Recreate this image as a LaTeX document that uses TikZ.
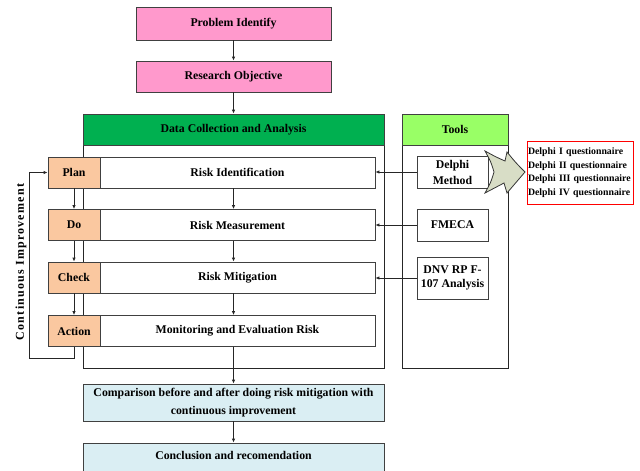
\documentclass[tikz,border=0pt]{standalone}
\usepackage{fontspec}
\setmainfont{Liberation Serif}
\newfontfamily\spacedfont[LetterSpace=10]{Liberation Serif}
\usetikzlibrary{positioning, arrows.meta}

\definecolor{pinkbox}{HTML}{FF99CC}
\definecolor{greenhead}{HTML}{00B050}
\definecolor{toolhead}{HTML}{99FF66}
\definecolor{pdcabox}{HTML}{FAC8A0}
\definecolor{bluebox}{HTML}{DAEEF3}
\definecolor{bigarrow}{HTML}{D8DDC6}

\tikzset{
  box/.style={draw=black!75, line width=0.8pt, font=\bfseries\fontsize{11.8}{14}\selectfont, align=center, inner sep=1pt},
  line/.style={draw=black!85, line width=0.8pt},
}

\begin{document}
\begin{tikzpicture}[x=1pt, y=-1pt, >={Latex[length=4pt, width=3.5pt]}]
  \useasboundingbox (0,0) rectangle (640,471);

  % Top boxes
  \node[box, fill=pinkbox, minimum width=195pt, minimum height=33pt] (prob) at (233.5,23.5) {Problem Identify};
  \node[box, fill=pinkbox, minimum width=195pt, minimum height=31pt] (obj) at (233.5,76.5) {Research Objective};

  % Frames of the two columns
  \draw[line] (83,114) rectangle (384,368);
  \draw[line] (402,114) rectangle (508,368);

  % Headers
  \node[box, fill=greenhead, minimum width=301pt, minimum height=31pt] (dca) at (233.5,129.5) {Data Collection and Analysis};
  \node[box, fill=toolhead, minimum width=106pt, minimum height=31pt] (tools) at (455,129.5) {Tools};

  % Steps
  \node[box, fill=white, minimum width=275pt, minimum height=31pt] (ident) at (237.5,172.5) {Risk Identification};
  \node[box, fill=white, minimum width=275pt, minimum height=31pt] (meas) at (237.5,225) {Risk Measurement};
  \node[box, fill=white, minimum width=275pt, minimum height=31pt] (mitig) at (237.5,277.5) {Risk Mitigation};
  \node[box, fill=white, minimum width=275pt, minimum height=31pt] (monit) at (237.5,331) {Monitoring and Evaluation Risk};

  % PDCA cycle
  \node[box, fill=pdcabox, minimum width=52pt, minimum height=31pt] (plan) at (74,172.5) {Plan};
  \node[box, fill=pdcabox, minimum width=52pt, minimum height=31pt] (do) at (74,225) {Do};
  \node[box, fill=pdcabox, minimum width=52pt, minimum height=31pt] (check) at (74,277.5) {Check};
  \node[box, fill=pdcabox, minimum width=52pt, minimum height=31pt] (action) at (74,331) {Action};

  % Tools
  \node[box, fill=white, minimum width=71pt, minimum height=32pt] (delphi) at (452.5,172) {Delphi\\[2pt]Method};
  \node[box, fill=white, minimum width=71pt, minimum height=32pt] (fmeca) at (452.5,225) {FMECA};
  \node[box, fill=white, minimum width=71pt, minimum height=42pt] (dnv) at (452.5,278) {DNV RP F-\\107 Analysis};

  % Bottom boxes
  \node[box, fill=bluebox, minimum width=301pt, minimum height=37pt] (comp) at (233.5,402.5) {Comparison before and after doing risk mitigation with\\[4pt]continuous improvement};
  \node[box, fill=bluebox, minimum width=301pt, minimum height=32pt, text depth=8pt] (concl) at (233.5,459) {Conclusion and recomendation};

  % Big arrow to the questionnaires
  \draw[draw=black!80, line width=0.8pt, fill=bigarrow]
    (485,151) .. controls (496,157) .. (505,161) -- (507,152)
    .. controls (516,163) .. (525,172) .. controls (516,182) .. (507,193)
    -- (504,183) .. controls (495,188) .. (485,193)
    .. controls (491,182) .. (494,172) .. controls (491,162) .. (485,151) -- cycle;

  \node[draw=red, line width=0.8pt, fill=white, font=\bfseries\fontsize{9.8}{13.7}\selectfont, align=left, inner sep=1pt,
        text width=104pt, minimum height=63pt] (quest) at (580,172.5)
    {Delphi I questionnaire\\Delphi II questionnaire\\Delphi III questionnaire\\Delphi IV questionnaire};

  % Main flow
  \draw[line, ->] (prob) -- (obj);
  \draw[line, ->] (obj) -- (dca);
  \draw[line, ->] (ident.south -| prob.south) -- (meas.north -| prob.south);
  \draw[line, ->] (meas.south -| prob.south) -- (mitig.north -| prob.south);
  \draw[line, ->] (mitig.south -| prob.south) -- (monit.north -| prob.south);
  \draw[line, ->] (monit.south -| prob.south) -- (comp);
  \draw[line, ->] (comp) -- (concl);

  % PDCA arrows and loop back
  \draw[line, ->] (plan) -- (do);
  \draw[line, ->] (do) -- (check);
  \draw[line, ->] (check) -- (action);
  \coordinate (loop) at (29,358);
  \draw[line, ->] (action.south) |- (loop) |- (plan.west);
  \node[rotate=90, font=\spacedfont\bfseries\fontsize{12}{14}\selectfont] (cont) at (21,262) {Continuous Improvement};

  % Tools feed the steps
  \draw[line, ->] (delphi.west) -- (delphi.west -| ident.east);
  \draw[line, ->] (fmeca.west) -- (fmeca.west -| meas.east);
  \draw[line, ->] (dnv.west) -- (dnv.west -| mitig.east);
\end{tikzpicture}
\end{document}
